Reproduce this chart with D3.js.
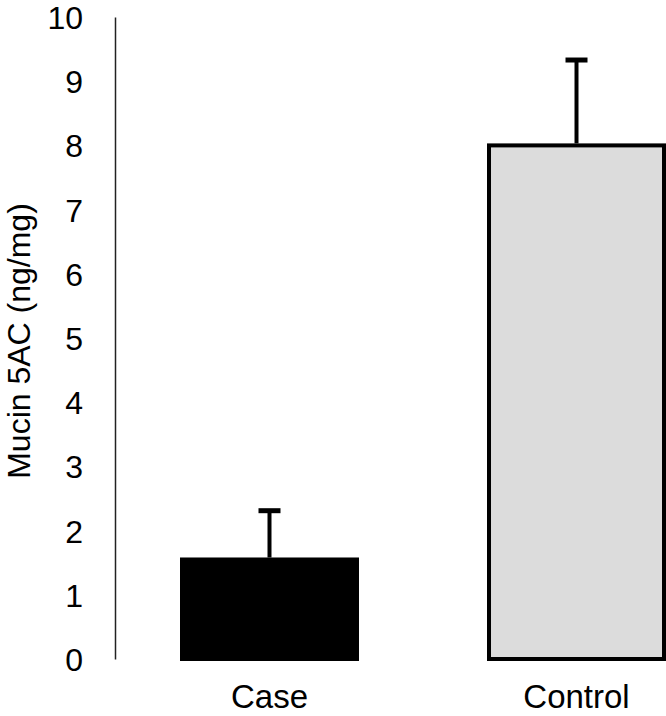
<!DOCTYPE html>
<html>
<head>
<meta charset="utf-8">
<script src="https://cdn.jsdelivr.net/npm/d3@7"></script>
<style>
  body { margin: 0; background: #fff; }
  text { font-family: "Liberation Sans", Arial, Helvetica, sans-serif; fill: #000; }
</style>
</head>
<body>
<script>
// data
var groups = ["Case", "Control"],
	means = [1.55, 8.0],
	errTops = [2.31, 9.33],
	fills = ["#000000", "#dcdcdc"],
	yTicks = [0, 1, 2, 3, 4, 5, 6, 7, 8, 9, 10];

var w = 666,
	h = 716;

var svg = d3.select("body")
	.append("svg")
	.attr("width", w)
	.attr("height", h);

var y = d3.scaleLinear()
	.domain([0, 10])
	.range([659, 17]);

var x = d3.scaleBand()
	.domain(groups)
	.range([120.6, 725.4])
	.paddingInner(0.43)
	.paddingOuter(0.2);

// y axis, no tick marks
var yAxis = svg.append("g")
	.attr("transform", "translate(115,0)")
	.call(d3.axisLeft(y).tickValues(yTicks).tickSize(0).tickPadding(32).tickFormat(d3.format("d")));

yAxis.select(".domain")
	.attr("stroke", "#222")
	.attr("stroke-width", 1.5);

yAxis.selectAll("text")
	.style("font-size", "32px")
	.attr("dy", "0.36em");

// bars
svg.selectAll("rect.bar")
	.data(groups)
	.enter()
	.append("rect")
	.attr("class", "bar")
	.attr("x", d => x(d))
	.attr("y", (d, i) => y(means[i]))
	.attr("width", x.bandwidth())
	.attr("height", (d, i) => y(0) - y(means[i]))
	.attr("fill", (d, i) => fills[i])
	.attr("stroke", "#000")
	.attr("stroke-width", 4);

// error bars (upper only)
svg.selectAll("line.stem")
	.data(groups)
	.enter()
	.append("line")
	.attr("class", "stem")
	.attr("x1", d => x(d) + x.bandwidth() / 2)
	.attr("x2", d => x(d) + x.bandwidth() / 2)
	.attr("y1", (d, i) => y(means[i]) - 2)
	.attr("y2", (d, i) => y(errTops[i]))
	.attr("stroke", "#000")
	.attr("stroke-width", 4);

svg.selectAll("line.cap")
	.data(groups)
	.enter()
	.append("line")
	.attr("class", "cap")
	.attr("x1", d => x(d) + x.bandwidth() / 2 - 11)
	.attr("x2", d => x(d) + x.bandwidth() / 2 + 11)
	.attr("y1", (d, i) => y(errTops[i]))
	.attr("y2", (d, i) => y(errTops[i]))
	.attr("stroke", "#000")
	.attr("stroke-width", 5);

// category labels
svg.selectAll("text.cat")
	.data(groups)
	.enter()
	.append("text")
	.attr("class", "cat")
	.attr("x", d => x(d) + x.bandwidth() / 2)
	.attr("y", 708)
	.attr("text-anchor", "middle")
	.style("font-size", "33px")
	.text(d => d);

// axis title
svg.append("text")
	.attr("transform", "translate(30,341) rotate(-90)")
	.attr("text-anchor", "middle")
	.style("font-size", "32px")
	.text("Mucin 5AC (ng/mg)");
</script>
</body>
</html>
